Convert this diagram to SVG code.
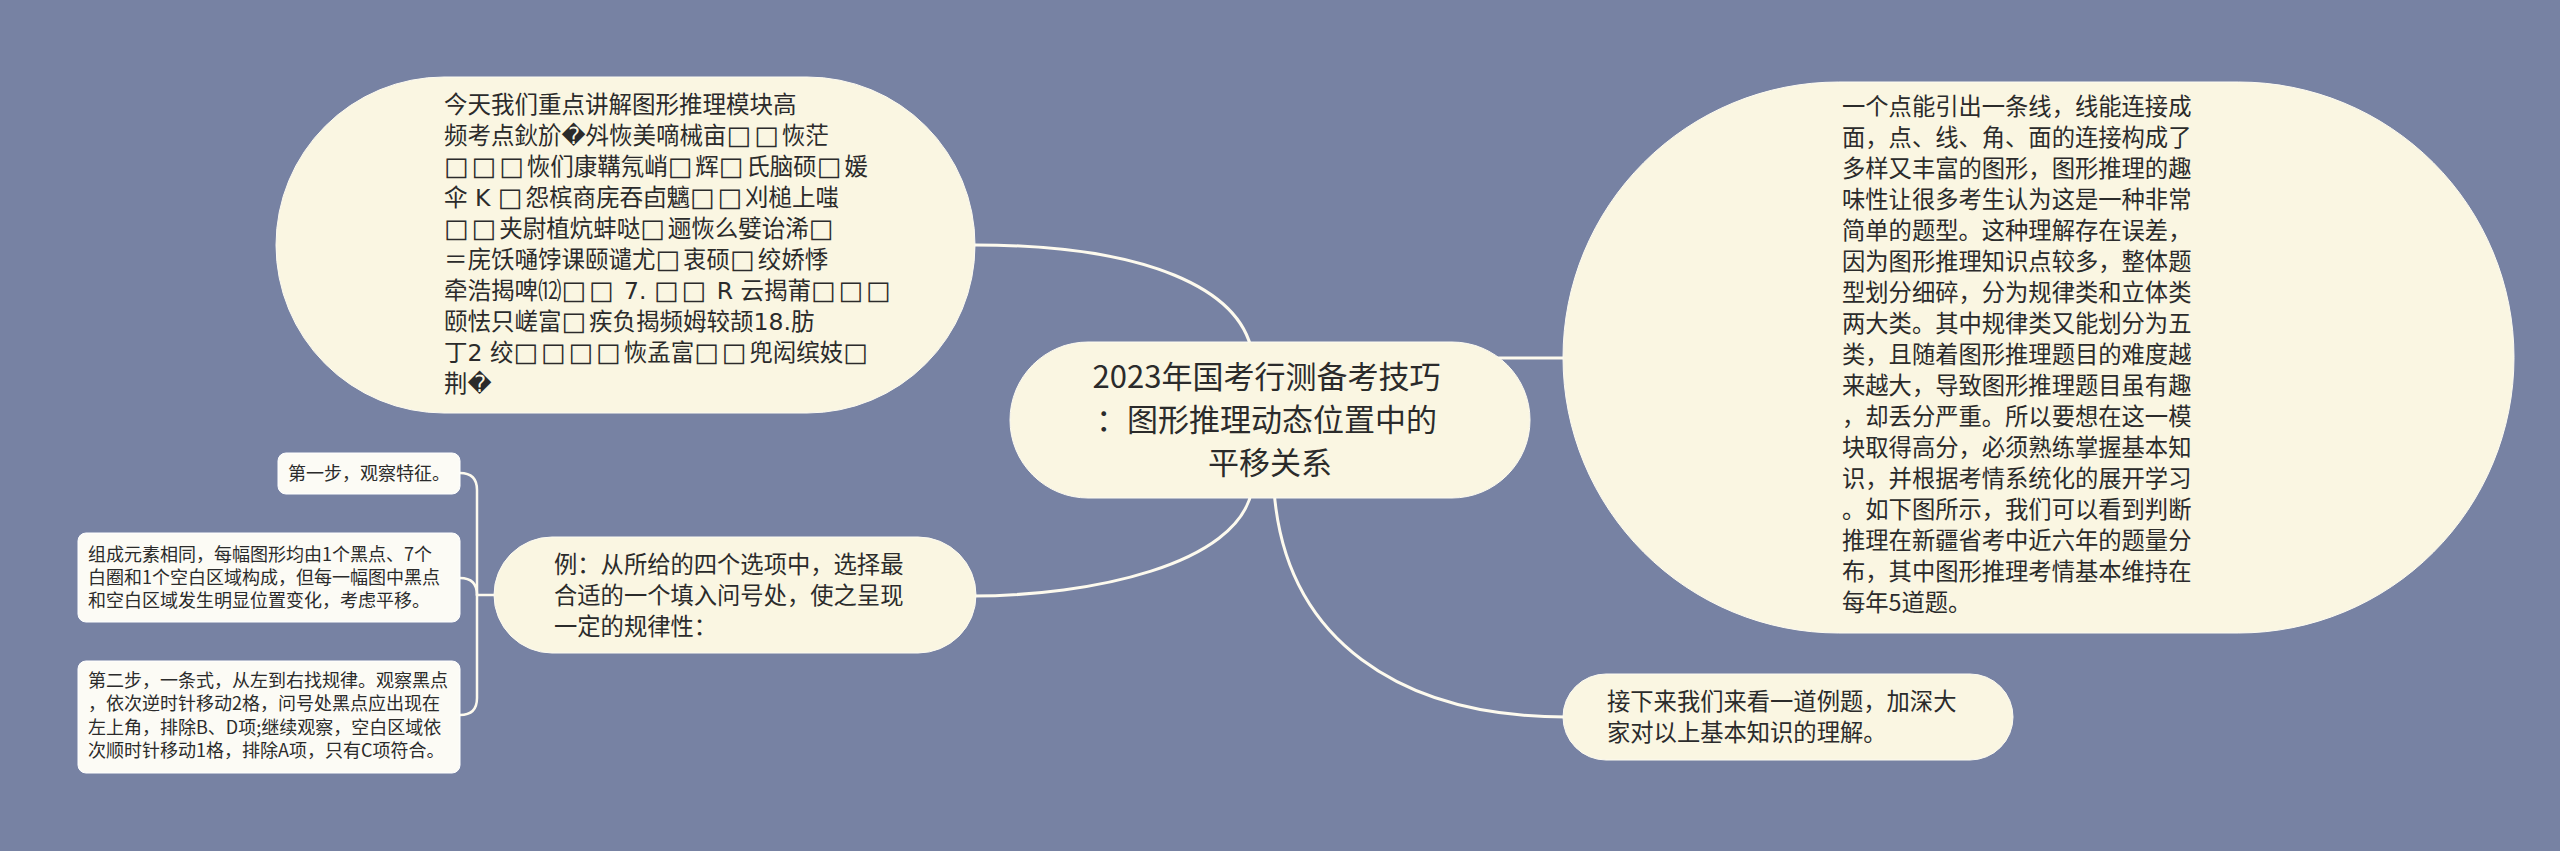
<svg xmlns="http://www.w3.org/2000/svg" width="2560" height="851" viewBox="0 0 2560 851">
<style>
.bg{fill:#7782a3}
.node{fill:#faf6e2;stroke:#fdfbf2;stroke-width:1}
.leaf{fill:#fcfbf5;stroke:#ffffff;stroke-width:1}
.link{fill:none;stroke:#fdfaee;stroke-width:3;stroke-linecap:round}
.blink{fill:none;stroke:#fdfaee;stroke-width:2.5;stroke-linecap:round}
text{fill:#2b2b2b;font-family:"Noto Sans CJK SC","Noto Sans",sans-serif}
.t23{font-size:23.3px}
.garb{font-size:23.5px;font-family:"DejaVu Sans","Noto Sans CJK SC",sans-serif}
.b{font-size:26px;letter-spacing:3px}
.title{font-size:31px;text-anchor:middle}
.t18{font-size:18px}
</style>
<rect class="bg" x="0" y="0" width="2560" height="851"/>
<g id="connectors">
<path class="link" d="M975,245 C1150,245 1240,290 1252,352"/>
<path class="link" d="M1488,358 L1566,358"/>
<path class="link" d="M1252,490 C1238,565 1090,596 972,596"/>
<path class="link" d="M1274,490 C1285,640 1400,717 1566,717"/>
<path class="blink" d="M495,595 L477,595"/>
<path class="blink" d="M477,595 L477,490 Q477,473 460,473"/>
<path class="blink" d="M477,595 Q477,578 460,578"/>
<path class="blink" d="M477,595 L477,698 Q477,715 460,715"/>
</g>
<g id="node-left">
<rect class="node" x="276" y="77" width="699" height="336" rx="168" ry="168"/>
<text class="garb" x="444">
<tspan x="444" y="113">今天我们重点讲解图形推理模块高</tspan>
<tspan x="444" y="144">频考点鈥斺�斘恢美嘀械亩<tspan class="b">□□</tspan>恢茫</tspan>
<tspan x="444" y="175"><tspan class="b">□□□</tspan>恢们康鞲氖峭<tspan class="b">□</tspan>辉<tspan class="b">□</tspan>氏脑硕<tspan class="b">□</tspan>媛</tspan>
<tspan x="444" y="206">伞 K <tspan class="b">□</tspan>怨槟商庑吞卣魑<tspan class="b">□□</tspan>刈槌上嗤</tspan>
<tspan x="444" y="237"><tspan class="b">□□</tspan>夹尉植炕蚌哒<tspan class="b">□</tspan>逦恢么嬖诒浠<tspan class="b">□</tspan></tspan>
<tspan x="444" y="268">＝庑饫嗵饽课颐谴尤<tspan class="b">□</tspan>衷硕<tspan class="b">□</tspan>绞娇悸</tspan>
<tspan x="444" y="299">牵浩揭啤⑿<tspan class="b">□□</tspan> 7. <tspan class="b">□□</tspan> R 云揭莆<tspan class="b">□□□</tspan></tspan>
<tspan x="444" y="330">颐怯只嵯富<tspan class="b">□</tspan>疾负揭频姆较颉18.肪</tspan>
<tspan x="444" y="361">丁2 绞<tspan class="b">□□□□</tspan>恢孟富<tspan class="b">□□</tspan>兜闳缤妓<tspan class="b">□</tspan></tspan>
<tspan x="444" y="392">荆�</tspan>
</text>
</g>
<g id="node-center">
<rect class="node" x="1010" y="342" width="520" height="156" rx="78" ry="78"/>
<text class="title">
<tspan x="1270" y="388">2023年国考行测备考技巧</tspan>
<tspan x="1270" y="431">：图形推理动态位置中的</tspan>
<tspan x="1270" y="474">平移关系</tspan>
</text>
</g>
<g id="node-right">
<rect class="node" x="1563" y="82" width="951" height="551" rx="275.5" ry="275.5"/>
<text class="t23">
<tspan x="1842" y="115">一个点能引出一条线，线能连接成</tspan>
<tspan x="1842" y="146">面，点、线、角、面的连接构成了</tspan>
<tspan x="1842" y="177">多样又丰富的图形，图形推理的趣</tspan>
<tspan x="1842" y="208">味性让很多考生认为这是一种非常</tspan>
<tspan x="1842" y="239">简单的题型。这种理解存在误差，</tspan>
<tspan x="1842" y="270">因为图形推理知识点较多，整体题</tspan>
<tspan x="1842" y="301">型划分细碎，分为规律类和立体类</tspan>
<tspan x="1842" y="332">两大类。其中规律类又能划分为五</tspan>
<tspan x="1842" y="363">类，且随着图形推理题目的难度越</tspan>
<tspan x="1842" y="394">来越大，导致图形推理题目虽有趣</tspan>
<tspan x="1842" y="425">，却丢分严重。所以要想在这一模</tspan>
<tspan x="1842" y="456">块取得高分，必须熟练掌握基本知</tspan>
<tspan x="1842" y="487">识，并根据考情系统化的展开学习</tspan>
<tspan x="1842" y="518">。如下图所示，我们可以看到判断</tspan>
<tspan x="1842" y="549">推理在新疆省考中近六年的题量分</tspan>
<tspan x="1842" y="580">布，其中图形推理考情基本维持在</tspan>
<tspan x="1842" y="611">每年5道题。</tspan>
</text>
</g>
<g id="node-next">
<rect class="node" x="1563" y="674" width="450" height="86" rx="43" ry="43"/>
<text class="t23">
<tspan x="1607" y="710">接下来我们来看一道例题，加深大</tspan>
<tspan x="1607" y="741">家对以上基本知识的理解。</tspan>
</text>
</g>
<g id="node-example">
<rect class="node" x="494" y="537" width="482" height="116" rx="58" ry="58"/>
<text class="t23">
<tspan x="554" y="573">例：从所给的四个选项中，选择最</tspan>
<tspan x="554" y="604">合适的一个填入问号处，使之呈现</tspan>
<tspan x="554" y="635">一定的规律性：</tspan>
</text>
</g>
<g id="leaf-step1">
<rect class="leaf" x="278" y="453" width="182" height="41" rx="8" ry="8"/>
<text class="t18" x="288" y="480">第一步，观察特征。</text>
</g>
<g id="leaf-elements">
<rect class="leaf" x="78" y="533" width="382" height="89" rx="8" ry="8"/>
<text class="t18">
<tspan x="88" y="561">组成元素相同，每幅图形均由1个黑点、7个</tspan>
<tspan x="88" y="584">白圈和1个空白区域构成，但每一幅图中黑点</tspan>
<tspan x="88" y="607">和空白区域发生明显位置变化，考虑平移。</tspan>
</text>
</g>
<g id="leaf-step2">
<rect class="leaf" x="78" y="661" width="382" height="112" rx="8" ry="8"/>
<text class="t18">
<tspan x="88" y="687">第二步，一条式，从左到右找规律。观察黑点</tspan>
<tspan x="88" y="710">，依次逆时针移动2格，问号处黑点应出现在</tspan>
<tspan x="88" y="734">左上角，排除B、D项;继续观察，空白区域依</tspan>
<tspan x="88" y="757">次顺时针移动1格，排除A项，只有C项符合。</tspan>
</text>
</g>
</svg>
